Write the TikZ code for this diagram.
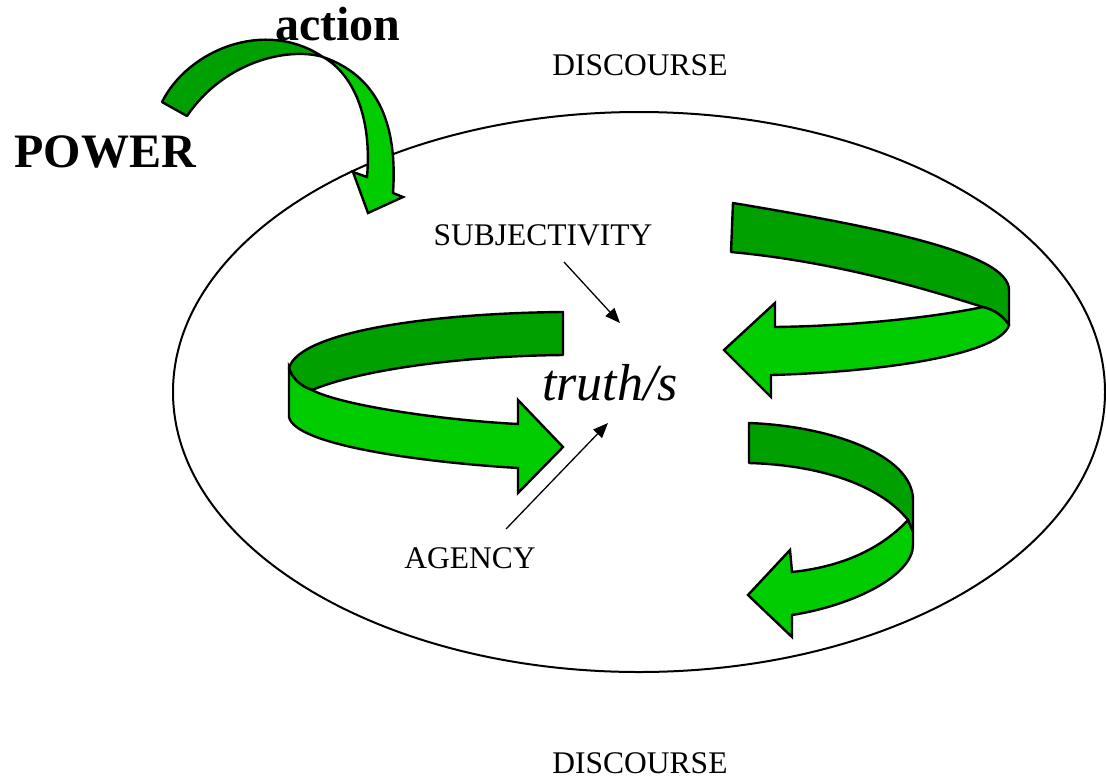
\documentclass[tikz,border=0pt]{standalone}
\usepackage{fontspec}
\setmainfont{Liberation Serif}
\usetikzlibrary{arrows.meta}

\definecolor{ribbondark}{RGB}{0,160,0}
\definecolor{ribbonlight}{RGB}{0,204,0}

\tikzset{
  back/.style={fill=ribbondark, draw=black, line width=2.4pt, line join=round},
  front/.style={fill=ribbonlight, draw=black, line width=2.4pt, line join=miter},
  label/.style={inner sep=0pt, anchor=base, font=\fontsize{31.5}{34}\selectfont},
  bigword/.style={inner sep=0pt, anchor=base, font=\fontsize{48}{52}\selectfont\bfseries},
  pointer/.style={line width=1.3pt, -{Triangle[length=15pt,width=12pt]}}
}

\begin{document}
\begin{tikzpicture}[x=1pt,y=-1pt]
\useasboundingbox (0,0) rectangle (1106,780);

% the discourse field
\draw[line width=2pt] (639,392) ellipse [x radius=466, y radius=280];

% labels
\node[bigword] (action) at (338,40) {action};
\node[bigword] (power) at (105,167) {POWER};
\node[label] (disctop) at (640,75.5) {DISCOURSE};
\node[label] (discbot) at (640,773.5) {DISCOURSE};
\node[label] (subj) at (543,245) {SUBJECTIVITY};
\node[label] (agency) at (470,568.5) {AGENCY};
\node[inner sep=0pt, anchor=base, font=\fontsize{52}{56}\selectfont\itshape] (truth) at (610,400) {truth/s};

% pointers onto truth/s
\coordinate (subjfoot) at (564,262);
\coordinate (subjtip) at (620,323);
\coordinate (agencyfoot) at (506,529);
\coordinate (agencytip) at (608,423);
\draw[pointer] (subjfoot) -- (subjtip);
\draw[pointer] (agencyfoot) -- (agencytip);

% action arrow: power reaching into discourse
\draw[back] (162,102) .. controls (188,50) and (265,18) .. (323,57)
  .. controls (290,47) and (225,60) .. (187,116) -- cycle;
\draw[front] (323,57) .. controls (375,75) and (398,120) .. (393,193)
  -- (403,197) -- (368,213) -- (353,172) -- (367,177)
  .. controls (372,120) and (355,75) .. (323,57) -- cycle;

% upper right ribbon
\draw[back] (733,203) .. controls (870,226) and (1009,252) .. (1009,290)
  -- (1009,325)
  .. controls (1003,316) and (995,310) .. (983,307)
  .. controls (935,292) and (840,262) .. (731,252) -- cycle;
\draw[front] (983,307) .. controls (930,318) and (850,326) .. (775,327)
  -- (775,303) -- (724,350) -- (771,397) -- (771,375)
  .. controls (880,372) and (1000,355) .. (1009,325)
  .. controls (1003,316) and (995,310) .. (983,307) -- cycle;

% left ribbon
\draw[back] (563,312) .. controls (440,313) and (300,330) .. (289,368)
  .. controls (292,378) and (300,386) .. (312,390)
  .. controls (360,370) and (460,356) .. (563,355) -- cycle;
\draw[front] (289,368) -- (289,417)
  .. controls (295,445) and (420,462) .. (518,468)
  -- (518,493) -- (563,447) -- (518,400) -- (518,424)
  .. controls (440,420) and (340,405) .. (312,390)
  .. controls (300,386) and (292,378) .. (289,368) -- cycle;

% lower right ribbon
\draw[back] (749,423) .. controls (830,426) and (913,455) .. (913,500)
  -- (913,532) -- (908,520)
  .. controls (880,485) and (820,465) .. (749,463) -- cycle;
\draw[front] (908,520) .. controls (880,550) and (840,567) .. (792,572)
  -- (790,550) -- (748,595) -- (792,637) -- (792,615)
  .. controls (855,605) and (913,575) .. (913,545)
  -- (913,532) -- (908,520) -- cycle;
\end{tikzpicture}
\end{document}
